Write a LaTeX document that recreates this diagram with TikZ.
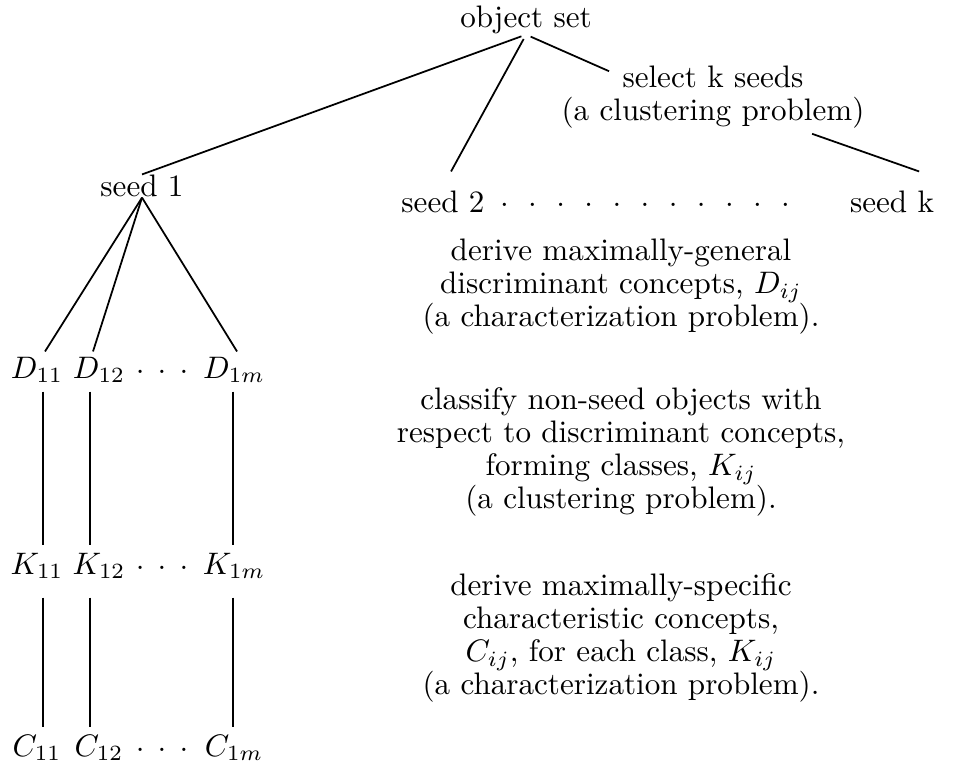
\documentclass[tikz,border=0pt]{standalone}
\usetikzlibrary{calc}

\newcommand{\gapdot}{\hspace{2.2mm}.}
\newcommand{\rowdots}{.\hspace{1.5mm}.\hspace{1.5mm}.}

\begin{document}
\begin{tikzpicture}[
    x=0.113mm, y=-0.113mm, scale=1.77,
    every node/.append style={transform shape},
    lbl/.style={inner sep=0pt, font=\fontsize{10}{10.6}\selectfont},
    txt/.style={lbl, align=center},
    ln/.style={draw=black, line width=1pt}
]
    \useasboundingbox (0,0) rectangle (955,765);

    % top of the tree
    \node[lbl] (objset) at (526,20) {object set};
    \node[txt] (select) at (713,97) {select k seeds\\(a clustering problem)};

    \node[lbl] (seedA) at (142,186) {seed 1};
    \node[lbl] (seedB) at (443,202) {seed 2};
    \node[lbl] (sdots) at (645,205) {.\gapdot\gapdot\gapdot\gapdot\gapdot\gapdot\gapdot\gapdot\gapdot\gapdot};
    \node[lbl] (seedK) at (892,202) {seed k};

    \draw[ln, shorten <=1mm] (objset.south) -- (seedA.north);
    \draw[ln, shorten <=1mm] (objset.south) -- ($(seedB.north)+(8,-19)$);
    \draw[ln, shorten <=1mm] (objset.south) -- ($(select.north west)+(48,6)$);
    \draw[ln] ($(select.south east)+(-53,5)$) -- ($(seedK.north)+(27,-19)$);

    % discriminant concepts
    \node[lbl] (d11) at (37,370) {$D_{11}$};
    \node[lbl] (d12) at (99,370) {$D_{12}$};
    \node[lbl] (ddots) at (162,372) {\rowdots};
    \node[lbl] (d1m) at (234,370) {$D_{1m}$};

    \draw[ln] (seedA.south) -- ($(d11.north)+(8,-5)$);
    \draw[ln] (seedA.south) -- ($(d12.north)+(-6,-5)$);
    \draw[ln] (seedA.south) -- ($(d1m.north)+(3,-5)$);

    % classes
    \node[lbl] (k11) at (37,566) {$K_{11}$};
    \node[lbl] (k12) at (99,566) {$K_{12}$};
    \node[lbl] (kdots) at (162,568) {\rowdots};
    \node[lbl] (k1m) at (234,566) {$K_{1m}$};

    \draw[ln, shorten <=1.6mm, shorten >=1.4mm] ($(d11.south)+(6,0)$) -- ($(k11.north)+(6,0)$);
    \draw[ln, shorten <=1.6mm, shorten >=1.4mm] ($(d12.south)+(-9,0)$) -- ($(k12.north)+(-9,0)$);
    \draw[ln, shorten <=1.6mm, shorten >=1.4mm] ($(d1m.south)+(-1,0)$) -- ($(k1m.north)+(-1,0)$);

    % characteristic concepts
    \node[lbl] (c11) at (37,748) {$C_{11}$};
    \node[lbl] (c12) at (99,748) {$C_{12}$};
    \node[lbl] (cdots) at (162,750) {\rowdots};
    \node[lbl] (c1m) at (234,748) {$C_{1m}$};

    \draw[ln, shorten <=3.6mm, shorten >=1.6mm] ($(k11.south)+(6,0)$) -- ($(c11.north)+(6,0)$);
    \draw[ln, shorten <=3.6mm, shorten >=1.6mm] ($(k12.south)+(-9,0)$) -- ($(c12.north)+(-9,0)$);
    \draw[ln, shorten <=3.6mm, shorten >=1.6mm] ($(k1m.south)+(-1,0)$) -- ($(c1m.north)+(-1,0)$);

    % explanations
    \node[txt] (txtD) at (621,287) {derive maximally-general\\discriminant concepts, $D_{ij}$\\(a characterization problem).};
    \node[txt] (txtK) at (621,452) {classify non-seed objects with\\respect to discriminant concepts,\\forming classes, $K_{ij}$\\(a clustering problem).};
    \node[txt] (txtC) at (621,638) {derive maximally-specific\\characteristic concepts,\\$C_{ij}$, for each class, $K_{ij}$\\(a characterization problem).};
\end{tikzpicture}
\end{document}
